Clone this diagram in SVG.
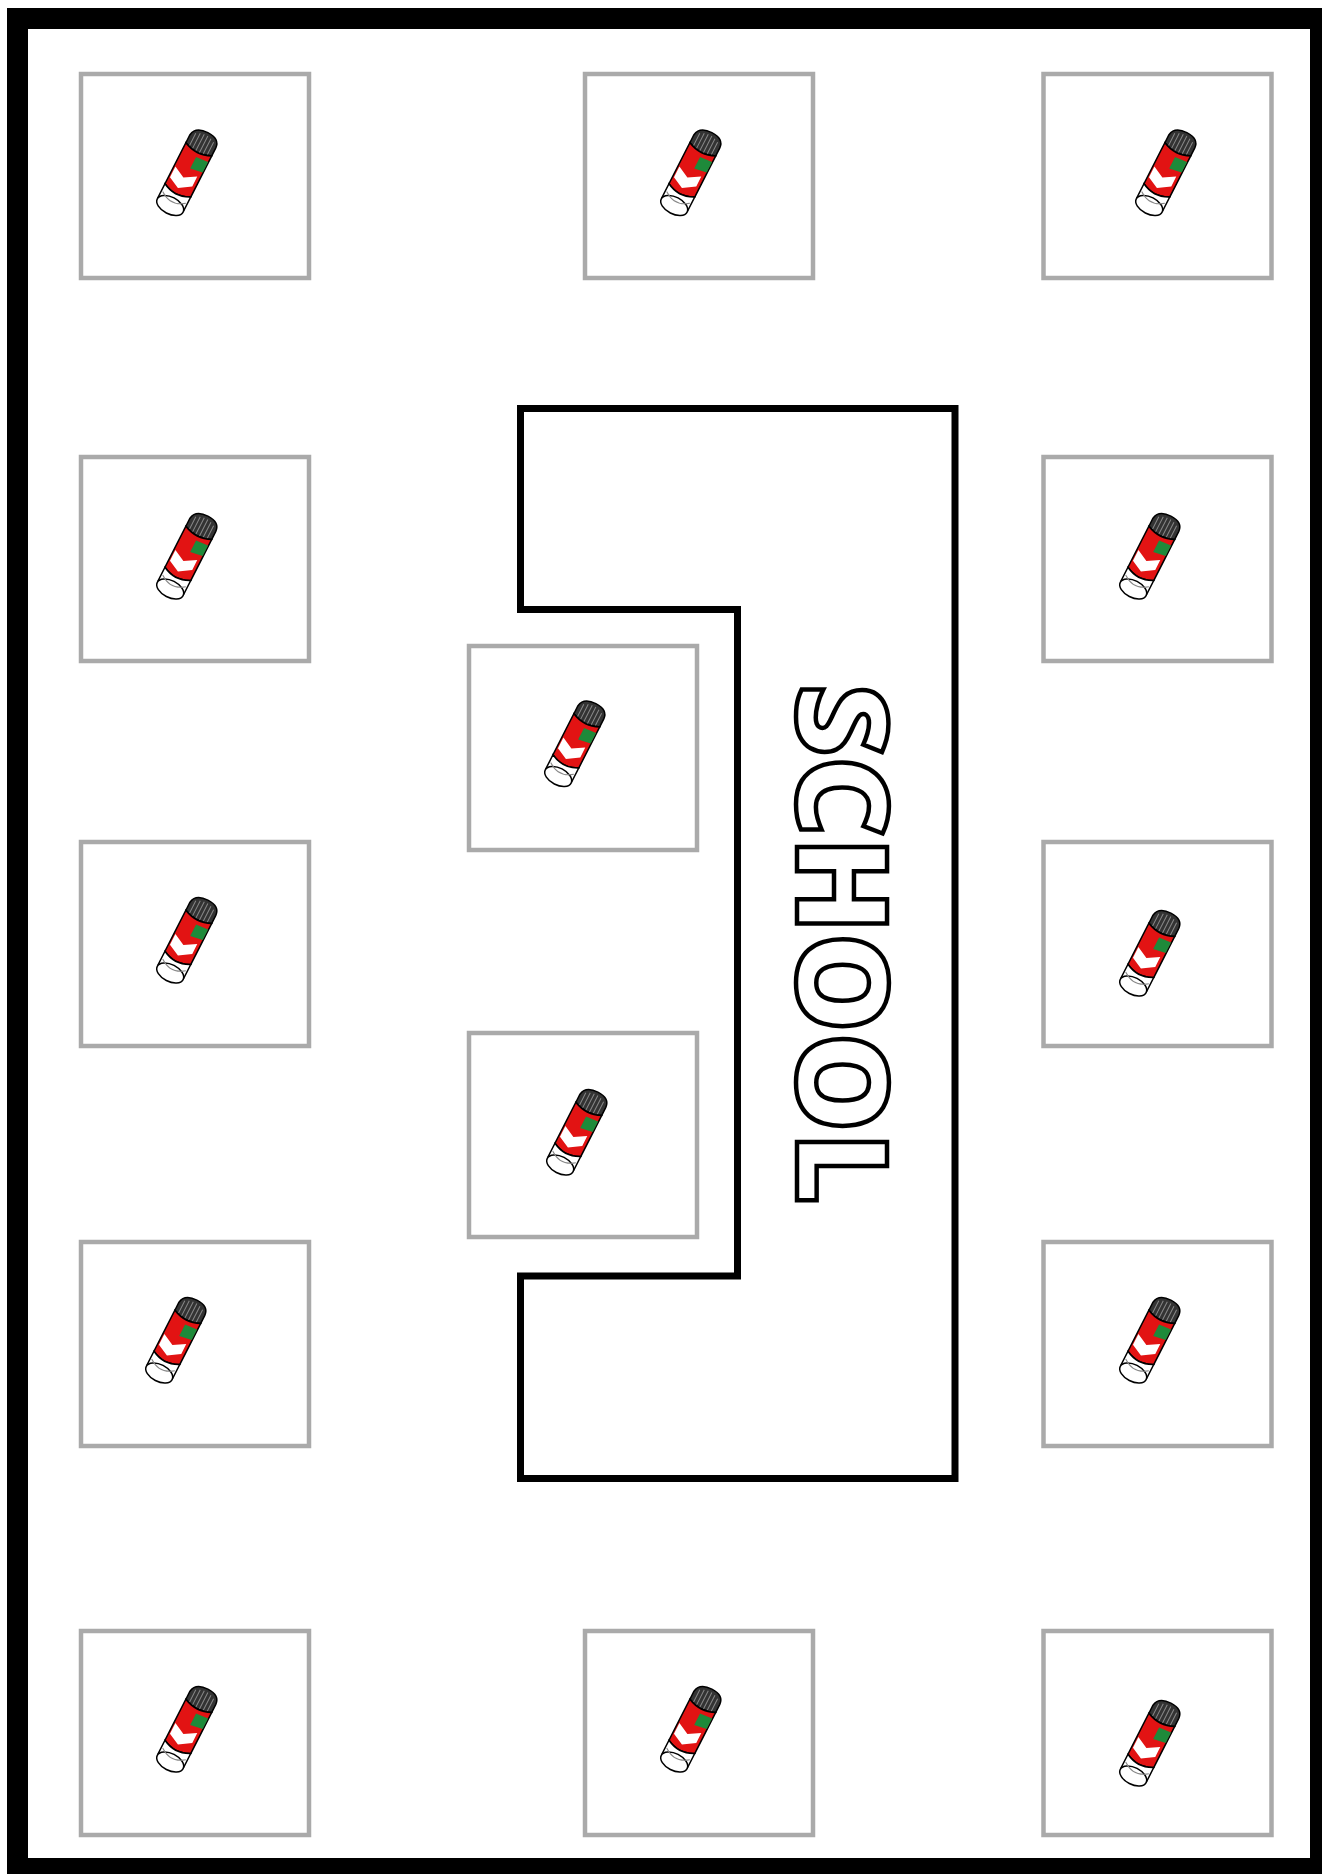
<svg xmlns="http://www.w3.org/2000/svg" width="1322" height="1874" viewBox="0 0 1322 1874">
<style>
.desk{fill:#fff;stroke:#aaa;stroke-width:4.500}
.o{stroke:#000;stroke-width:1.500}
</style>
<defs>
<g id="stick">
<path d="M-14.500-26V-35Q-13-45 0.500-45T14.500-35V-26Q0-19-14.500-26Z" fill="#333" class="o"/>
<path d="M-10-39V-25M-6-41V-24M-2-42V-23M2-42V-23M6-41V-24M10-39V-25" stroke="#888" stroke-width="1" fill="none"/>
<path d="M-14.500-26Q0-19 14.500-26V20Q0 28-14.500 20Z" fill="#e21313" class="o"/>
<path d="M1-18L14-19V-7L1-5Z" fill="#1e8a3a"/>
<path d="M-13 0L-1 6L11-1L11 10L-1 18L-13 12Z" fill="#fff"/>
<path d="M-14.500 20Q0 28 14.500 20L14.500 36Q0 46-14.500 36Z" fill="#fff" class="o"/>
<ellipse cx="0" cy="37" rx="14.500" ry="8.500" fill="#fff" class="o"/>
<path d="M-13 28Q0 38 13 28" fill="none" stroke="#888" stroke-width="1"/>
</g>
</defs>
<rect id="frame" x="17.500" y="18.500" width="1303" height="1850" fill="#fff" stroke="#000" stroke-width="21"/>
<path id="school" d="M737.500 609.500H520.500V408.500H955V1478.500H520.500V1276H737.500Z" fill="#fff" stroke="#000" stroke-width="7"/>
<text transform="translate(797 684) rotate(90)" font-family="Open Sans, sans-serif" font-weight="800" font-size="125" fill="#fff" stroke="#000" stroke-width="4.500">SCHOOL</text>
<g id="d1"><rect class="desk" x="81" y="74" width="228" height="204"/><use href="#stick" transform="translate(187 172.500) rotate(27)"/></g>
<g id="d2"><rect class="desk" x="585" y="74" width="228" height="204"/><use href="#stick" transform="translate(691 172.500) rotate(27)"/></g>
<g id="d3"><rect class="desk" x="1043.500" y="74" width="228" height="204"/><use href="#stick" transform="translate(1166 172.500) rotate(27)"/></g>
<g id="d4"><rect class="desk" x="81" y="457" width="228" height="204"/><use href="#stick" transform="translate(187 556) rotate(27)"/></g>
<g id="d5"><rect class="desk" x="1043.500" y="457" width="228" height="204"/><use href="#stick" transform="translate(1150 556) rotate(27)"/></g>
<g id="d6"><rect class="desk" x="81" y="842" width="228" height="204"/><use href="#stick" transform="translate(187 940) rotate(27)"/></g>
<g id="d7"><rect class="desk" x="1043.500" y="842" width="228" height="204"/><use href="#stick" transform="translate(1150 953) rotate(27)"/></g>
<g id="d8"><rect class="desk" x="469" y="646" width="228" height="204"/><use href="#stick" transform="translate(575 743.500) rotate(27)"/></g>
<g id="d9"><rect class="desk" x="469" y="1033" width="228" height="204"/><use href="#stick" transform="translate(577 1132) rotate(27)"/></g>
<g id="d10"><rect class="desk" x="81" y="1242" width="228" height="204"/><use href="#stick" transform="translate(176 1340) rotate(27)"/></g>
<g id="d11"><rect class="desk" x="1043.500" y="1242" width="228" height="204"/><use href="#stick" transform="translate(1150 1340) rotate(27)"/></g>
<g id="d12"><rect class="desk" x="81" y="1631" width="228" height="204"/><use href="#stick" transform="translate(187 1729) rotate(27)"/></g>
<g id="d13"><rect class="desk" x="585" y="1631" width="228" height="204"/><use href="#stick" transform="translate(691 1729) rotate(27)"/></g>
<g id="d14"><rect class="desk" x="1043.500" y="1631" width="228" height="204"/><use href="#stick" transform="translate(1150 1743) rotate(27)"/></g>
</svg>
